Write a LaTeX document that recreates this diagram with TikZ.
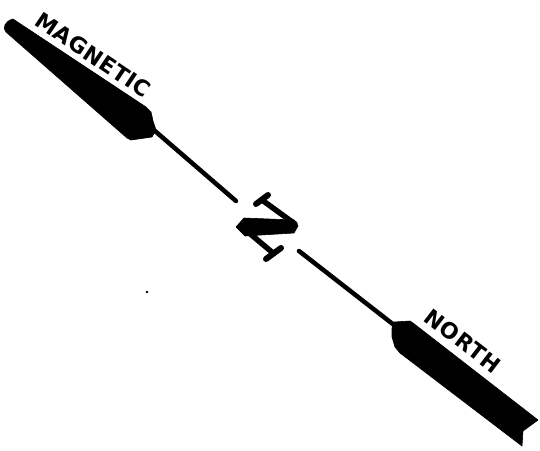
\documentclass[tikz,border=0pt]{standalone}
\usepackage{fontspec}
\setmainfont{DejaVu Sans}
\newfontfamily\maglblfont[LetterSpace=2]{DejaVu Sans}
\newfontfamily\norlblfont[LetterSpace=3]{DejaVu Sans}
\begin{document}
\begin{tikzpicture}[x=1pt,y=-1pt,
  needle/.style={fill=black,draw=black,line width=0.6pt,line join=round},
  axisline/.style={line width=4.5pt,line cap=round},
  thinstroke/.style={line width=5.5pt,line cap=round},
  serifstroke/.style={line width=6pt,line cap=round},
  lbl/.style={inner sep=0pt}]
\useasboundingbox (0,0) rectangle (540,450);
\fill[white] (0,0) rectangle (540,450);

\coordinate (magend) at (155,131);
\coordinate (zA) at (236,201);
\coordinate (zB) at (299,251);
\coordinate (northend) at (394,325);

% magnetic needle
\filldraw[needle] (13,19) -- (146,107) -- (151,112) -- (153,121) -- (156,130) -- (152,137) -- (131,140) -- (127,138) -- (6,32) .. controls (2,28) and (5,21) .. (13,19) -- cycle;

% north bar
\filldraw[needle] (394,322) -- (410,321) -- (413,323) -- (538,420) -- (523,431) -- (522,446) -- (400,353) -- (395,347) -- (392,337) -- (392,328) -- cycle;

% axis line
\draw[axisline] (magend) -- (zA);
\draw[axisline] (zB) -- (northend);

% Z symbol
\draw[serifstroke] (256,204) -- (268,195);
\draw[thinstroke] (262,200) -- (295,224);
\filldraw[needle] (236,227) -- (244,218) -- (294,220) -- (298,226) -- (294,233) -- (245,236) -- cycle;
\draw[thinstroke] (248,232) -- (273,253);
\draw[serifstroke] (266,259) -- (281,248);

% labels
\node[lbl, rotate=-34] (mag) at (93,55) {\maglblfont\bfseries\fontsize{22}{22}\selectfont MAGNETIC};
\node[lbl, rotate=-37.5] (nor) at (463,341) {\norlblfont\bfseries\fontsize{22}{22}\selectfont NORTH};

% speck
\fill (147,292) circle (1.3);
\end{tikzpicture}
\end{document}
